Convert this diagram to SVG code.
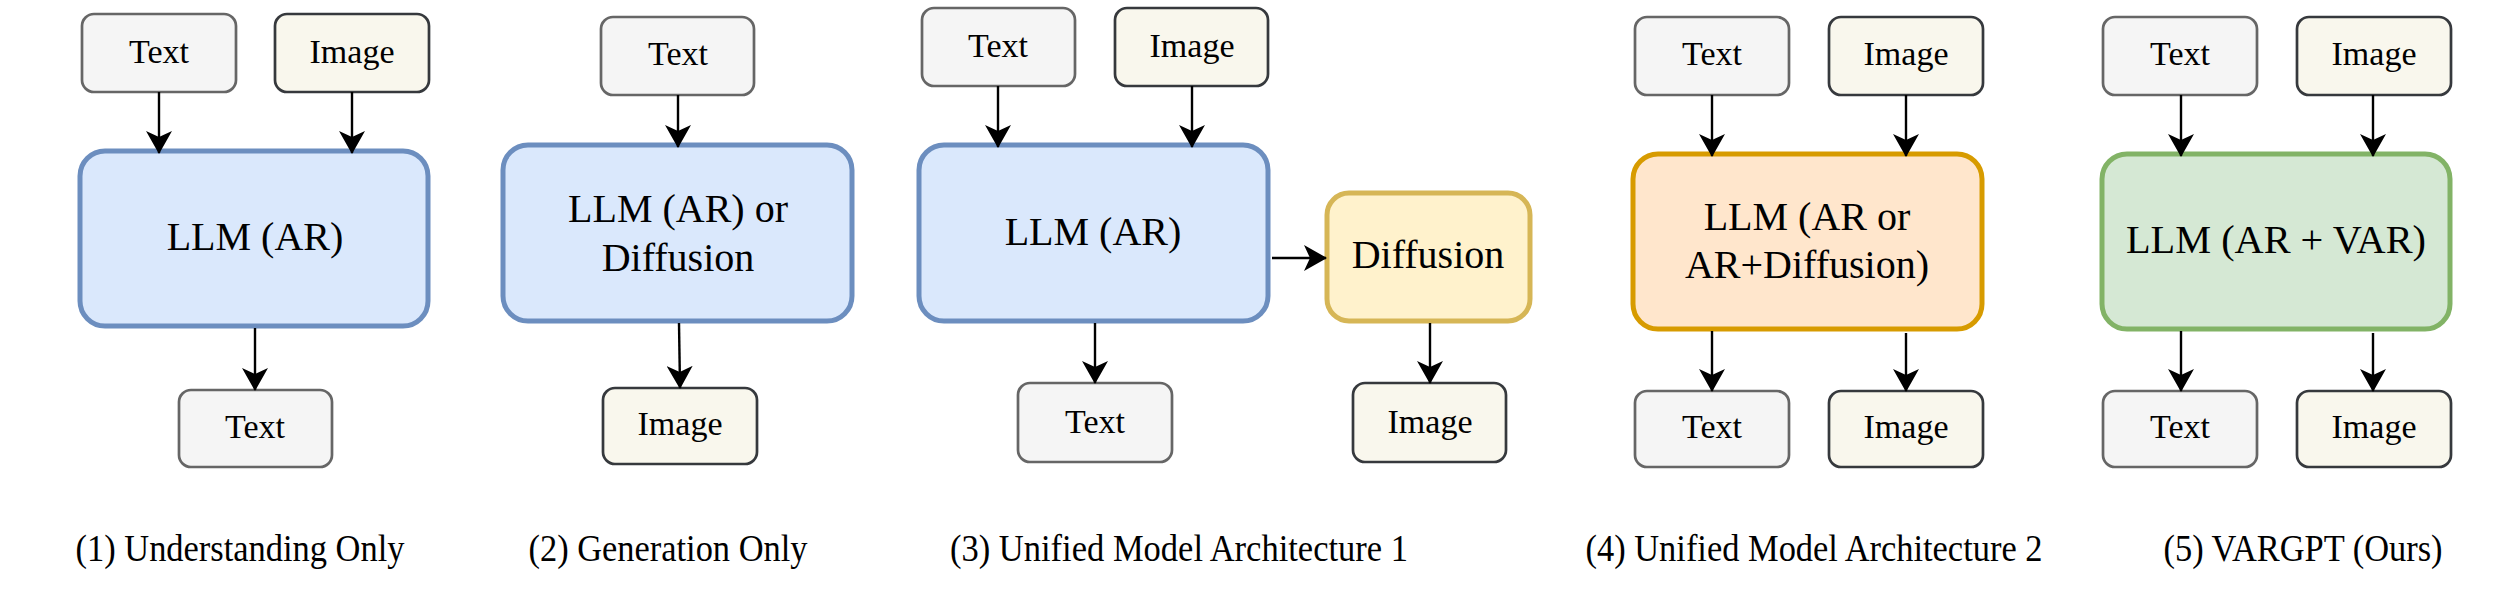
<svg xmlns="http://www.w3.org/2000/svg" width="2520" height="594" viewBox="0 0 2520 594">
<defs>
<style>
.txt{fill:#f5f5f5;stroke:#666666;stroke-width:2.7}
.img{fill:#f9f7ed;stroke:#36393d;stroke-width:2.7}
.blue{fill:#dae8fc;stroke:#6c8ebf;stroke-width:5}
.orange{fill:#ffe6cc;stroke:#d79b00;stroke-width:5}
.green{fill:#d5e8d4;stroke:#82b366;stroke-width:5}
.yellow{fill:#fff2cc;stroke:#d6b656;stroke-width:5}
text{font-family:"Liberation Serif","Times New Roman",serif;fill:#000;text-anchor:middle}
.lbl{font-size:34px}
.big{font-size:40px}
.cap{font-size:38px}
.conn line{stroke:#000;stroke-width:2.4;fill:none;marker-end:url(#arr)}
</style>
<marker id="arr" viewBox="0 0 23 26" markerWidth="23" markerHeight="26" refX="22" refY="13" orient="auto" markerUnits="userSpaceOnUse">
<path d="M0,0 L23,13 L0,26 L6,13 Z" fill="#000"/>
</marker>
</defs>
<rect width="2520" height="594" fill="#ffffff"/>

<!-- Panel 1 -->
<g id="p1-text-in"><rect class="txt" x="82" y="14" width="154" height="78" rx="12"/><text class="lbl" x="159" y="63">Text</text></g>
<g id="p1-image-in"><rect class="img" x="275" y="14" width="154" height="78" rx="12"/><text class="lbl" x="352" y="63">Image</text></g>
<g id="p1-llm"><rect class="blue" x="80" y="151" width="348" height="175" rx="25"/><text class="big" x="255" y="250">LLM (AR)</text></g>
<g id="p1-text-out"><rect class="txt" x="179" y="390" width="153" height="77" rx="12"/><text class="lbl" x="255" y="438">Text</text></g>
<g id="p1-caption"><text class="cap" x="240" y="561" textLength="329" lengthAdjust="spacingAndGlyphs">(1) Understanding Only</text></g>

<!-- Panel 2 -->
<g id="p2-text-in"><rect class="txt" x="601" y="17" width="153" height="78" rx="12"/><text class="lbl" x="678" y="65">Text</text></g>
<g id="p2-llm"><rect class="blue" x="503" y="145" width="349" height="176" rx="25"/><text class="big" x="678" y="222">LLM (AR) or</text><text class="big" x="678" y="271">Diffusion</text></g>
<g id="p2-image-out"><rect class="img" x="603" y="388" width="154" height="76" rx="12"/><text class="lbl" x="680" y="435">Image</text></g>
<g id="p2-caption"><text class="cap" x="668" y="561" textLength="279" lengthAdjust="spacingAndGlyphs">(2) Generation Only</text></g>

<!-- Panel 3 -->
<g id="p3-text-in"><rect class="txt" x="922" y="8" width="153" height="78" rx="12"/><text class="lbl" x="998" y="57">Text</text></g>
<g id="p3-image-in"><rect class="img" x="1115" y="8" width="153" height="78" rx="12"/><text class="lbl" x="1192" y="57">Image</text></g>
<g id="p3-llm"><rect class="blue" x="919" y="145" width="349" height="176" rx="25"/><text class="big" x="1093" y="245">LLM (AR)</text></g>
<g id="p3-diffusion"><rect class="yellow" x="1327" y="193" width="203" height="128" rx="22"/><text class="big" x="1428" y="268">Diffusion</text></g>
<g id="p3-text-out"><rect class="txt" x="1018" y="383" width="154" height="79" rx="12"/><text class="lbl" x="1095" y="433">Text</text></g>
<g id="p3-image-out"><rect class="img" x="1353" y="383" width="153" height="79" rx="12"/><text class="lbl" x="1430" y="433">Image</text></g>
<g id="p3-caption"><text class="cap" x="1179" y="561" textLength="458" lengthAdjust="spacingAndGlyphs">(3) Unified Model Architecture 1</text></g>

<!-- Panel 4 -->
<g id="p4-text-in"><rect class="txt" x="1635" y="17" width="154" height="78" rx="12"/><text class="lbl" x="1712" y="65">Text</text></g>
<g id="p4-image-in"><rect class="img" x="1829" y="17" width="154" height="78" rx="12"/><text class="lbl" x="1906" y="65">Image</text></g>
<g id="p4-llm"><rect class="orange" x="1633" y="154" width="349" height="175" rx="25"/><text class="big" x="1807" y="230">LLM (AR or</text><text class="big" x="1807" y="278">AR+Diffusion)</text></g>
<g id="p4-text-out"><rect class="txt" x="1635" y="391" width="154" height="76" rx="12"/><text class="lbl" x="1712" y="438">Text</text></g>
<g id="p4-image-out"><rect class="img" x="1829" y="391" width="154" height="76" rx="12"/><text class="lbl" x="1906" y="438">Image</text></g>
<g id="p4-caption"><text class="cap" x="1814" y="561" textLength="457" lengthAdjust="spacingAndGlyphs">(4) Unified Model Architecture 2</text></g>

<!-- Panel 5 -->
<g id="p5-text-in"><rect class="txt" x="2103" y="17" width="154" height="78" rx="12"/><text class="lbl" x="2180" y="65">Text</text></g>
<g id="p5-image-in"><rect class="img" x="2297" y="17" width="154" height="78" rx="12"/><text class="lbl" x="2374" y="65">Image</text></g>
<g id="p5-llm"><rect class="green" x="2102" y="154" width="348" height="175" rx="25"/><text class="big" x="2276" y="253" textLength="300" lengthAdjust="spacingAndGlyphs">LLM (AR + VAR)</text></g>
<g id="p5-text-out"><rect class="txt" x="2103" y="391" width="154" height="76" rx="12"/><text class="lbl" x="2180" y="438">Text</text></g>
<g id="p5-image-out"><rect class="img" x="2297" y="391" width="154" height="76" rx="12"/><text class="lbl" x="2374" y="438">Image</text></g>
<g id="p5-caption"><text class="cap" x="2303" y="561" textLength="279" lengthAdjust="spacingAndGlyphs">(5) VARGPT (Ours)</text></g>

<g id="connectors" class="conn">
<line x1="159" y1="92" x2="159" y2="153"/>
<line x1="352" y1="92" x2="352" y2="153"/>
<line x1="255" y1="328" x2="255" y2="390"/>
<line x1="678" y1="95" x2="678" y2="147"/>
<line x1="679" y1="323" x2="680" y2="388"/>
<line x1="998" y1="86" x2="998" y2="147"/>
<line x1="1192" y1="86" x2="1192" y2="147"/>
<line x1="1272" y1="258" x2="1326" y2="258"/>
<line x1="1095" y1="323" x2="1095" y2="383"/>
<line x1="1430" y1="323" x2="1430" y2="383"/>
<line x1="1712" y1="95" x2="1712" y2="156"/>
<line x1="1906" y1="95" x2="1906" y2="156"/>
<line x1="1712" y1="331" x2="1712" y2="391"/>
<line x1="1906" y1="333" x2="1906" y2="391"/>
<line x1="2181" y1="95" x2="2181" y2="156"/>
<line x1="2373" y1="95" x2="2373" y2="156"/>
<line x1="2181" y1="331" x2="2181" y2="391"/>
<line x1="2373" y1="333" x2="2373" y2="391"/>
</g>
</svg>
